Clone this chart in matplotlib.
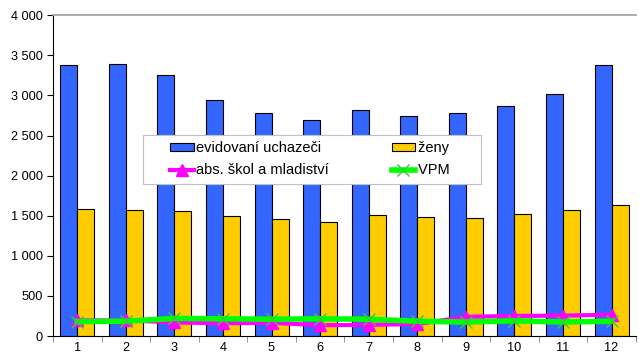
import numpy as np
import matplotlib
matplotlib.use("Agg")
import matplotlib.pyplot as plt
from matplotlib.ticker import FuncFormatter
from matplotlib.legend_handler import HandlerPatch, HandlerLine2D
from matplotlib.patches import Rectangle
from matplotlib.lines import Line2D

plt.rcParams["font.family"] = ["Liberation Sans", "DejaVu Sans"]

months = [1, 2, 3, 4, 5, 6, 7, 8, 9, 10, 11, 12]
uchazeci = [3375, 3390, 3250, 2940, 2780, 2695, 2815, 2745, 2780, 2865, 3015, 3375]
zeny = [1580, 1572, 1560, 1497, 1458, 1425, 1508, 1483, 1468, 1520, 1572, 1632]
absolventi = [195, 195, 170, 160, 165, 135, 140, 150, 240, 250, 255, 265]
vpm = [180, 185, 220, 215, 210, 215, 210, 185, 175, 190, 175, 185]

fig = plt.figure(figsize=(6.39, 3.53), dpi=100)
ax = fig.add_axes([0.083, 0.048, 0.912, 0.909])

x = np.arange(len(months))
w = 0.35
b1 = ax.bar(x - w / 2, uchazeci, w, color="#3366FF", edgecolor="black", linewidth=0.8,
            label="evidovaní uchazeči", zorder=2)
b2 = ax.bar(x + w / 2, zeny, w, color="#FFCC00", edgecolor="black", linewidth=0.8,
            label="ženy", zorder=2)
l1, = ax.plot(x, absolventi, color="#FF00FF", linewidth=3, marker="^", markersize=9,
              label="abs. škol a mladiství", zorder=3)
l2, = ax.plot(x, vpm, color="#00FF00", linewidth=4, marker="x", markersize=9,
              markeredgecolor="#33CC33", markeredgewidth=1, label="VPM", zorder=4)

ax.set_xlim(-0.5, len(months) - 0.5)
ax.set_ylim(0, 4000)
ax.set_yticks(range(0, 4001, 500))
ax.yaxis.set_major_formatter(FuncFormatter(lambda v, p: f"{int(v):,}".replace(",", " ")))
ax.set_xticks(x)
ax.set_xticklabels([str(m) for m in months])
ax.set_xticks(np.arange(-0.5, len(months), 1), minor=True)
ax.tick_params(axis="x", which="major", length=0, labelsize=9.2, pad=4)
ax.tick_params(axis="x", which="minor", length=4, color="#808080")
ax.tick_params(axis="y", labelsize=9.2, length=4)

ax.spines["right"].set_visible(False)
ax.spines["top"].set_color("#A0A0A0")
ax.spines["top"].set_linewidth(1.2)

pad = 1.45
leg = ax.legend([b1[0], l1, b2[0], l2],
                ["evidovaní uchazeči", "abs. škol a mladiství",
                 "ženy" + " " * 6, "VPM" + " " * 6],
                ncol=2, loc="upper left", bbox_to_anchor=(0.154, 0.628), fontsize=10.5,
                frameon=True, fancybox=False, edgecolor="#C0C0C0", framealpha=1,
                columnspacing=2.85, handlelength=1.58 + pad, handleheight=0.45,
                handletextpad=0.2, borderpad=0.45, labelspacing=0.55,
                borderaxespad=0, numpoints=1,
                handler_map={Rectangle: HandlerPatch(xpad=pad),
                             Line2D: HandlerLine2D(xpad=pad)})
leg.get_frame().set_linewidth(0.8)

fig.savefig("out.png", dpi=100)
